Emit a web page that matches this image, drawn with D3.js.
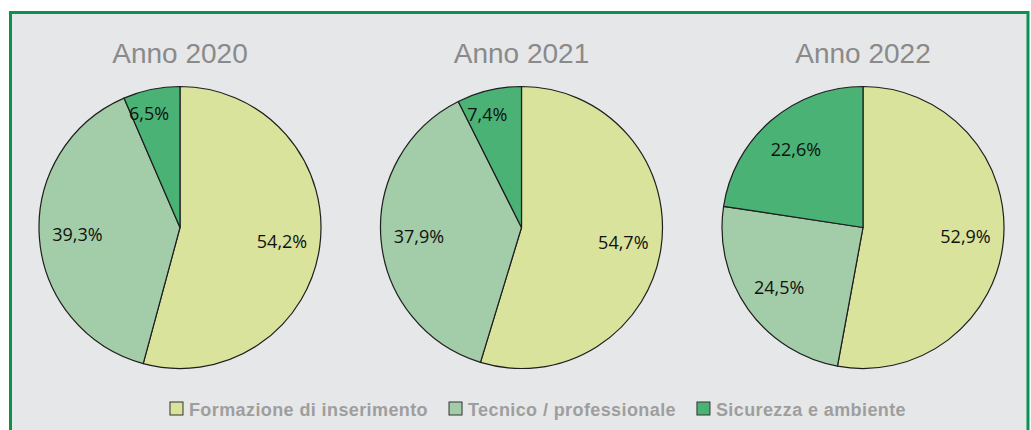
<!DOCTYPE html>
<html>
<head>
<meta charset="utf-8">
<script src="https://cdn.jsdelivr.net/npm/d3@7"></script>
<style>
  html, body { margin: 0; padding: 0; background: #ffffff; }
  svg { display: block; }
</style>
</head>
<body>
<svg id="chart" width="1031" height="430"></svg>
<script>
// Ripartizione delle ore di formazione per tipologia, anni 2020-2022
const years = ["Anno 2020", "Anno 2021", "Anno 2022"];
const categories = ["Formazione di inserimento", "Tecnico / professionale", "Sicurezza e ambiente"];
const formazione = [54.2, 54.7, 52.9];
const tecnico = [39.3, 37.9, 24.5];
const sicurezza = [6.5, 7.4, 22.6];

const colors = ["#d9e39b", "#a3cda8", "#4ab275"];

const svg = d3.select("#chart");

// Frame: light grey panel with green border (open at the bottom edge)
svg.append("rect")
  .attr("x", 10.5).attr("y", 12.5)
  .attr("width", 1017.5).attr("height", 430)
  .attr("fill", "#e6e7e9")
  .attr("stroke", "#0c9150")
  .attr("stroke-width", 3);

const itLocale = d3.formatLocale({ decimal: ",", thousands: ".", grouping: [3], currency: ["€", ""] });
const fmt = itLocale.format(".1f");

const x = d3.scalePoint().domain(years).range([180, 863]);
const cy = 227.5;
const R = 141;

const pie = d3.pie().sort(null).value(d => d.value);
const arc = d3.arc().innerRadius(0).outerRadius(R);

years.forEach((year, i) => {
  const values = [formazione[i], tecnico[i], sicurezza[i]];
  const data = categories.map((c, k) => ({ cat: c, value: values[k], color: colors[k] }));
  const g = svg.append("g").attr("transform", `translate(${x(year)},${cy})`);

  g.append("text")
    .attr("x", 0).attr("y", 63 - cy)
    .attr("text-anchor", "middle")
    .attr("font-family", "'Liberation Sans', Arial, sans-serif")
    .attr("font-size", 28)
    .attr("fill", "#8a8a8a")
    .text(year);

  const slices = pie(data);
  g.selectAll("path.slice").data(slices).join("path")
    .attr("class", "slice")
    .attr("d", arc)
    .attr("fill", d => d.data.color)
    .attr("stroke", "#1e1e1e")
    .attr("stroke-width", 1.2)
    .attr("stroke-linejoin", "round");

  // Small slices get their label pushed further out
  g.selectAll("text.lbl").data(slices).join("text")
    .attr("class", "lbl")
    .attr("transform", d => {
      const small = d.data.value < 10;
      const f = small ? 0.84 : 0.73;
      const a = (d.startAngle + d.endAngle) / 2 + (small ? -0.06 : 0);
      return `translate(${Math.sin(a) * R * f},${-Math.cos(a) * R * f})`;
    })
    .attr("text-anchor", "middle")
    .attr("dy", "0.36em")
    .attr("font-family", "'Open Sans', 'Noto Sans', sans-serif")
    .attr("font-size", 18)
    .attr("fill", "#111")
    .text(d => fmt(d.data.value) + "%");
});

// Legend
const legend = svg.append("g");
const items = legend.selectAll("g").data(categories).join("g");
items.append("rect")
  .attr("width", 13).attr("height", 13)
  .attr("y", 402)
  .attr("fill", (d, k) => colors[k])
  .attr("stroke", "#333")
  .attr("stroke-width", 1);
items.append("text")
  .attr("x", 19).attr("y", 415.5)
  .attr("font-family", "'Liberation Sans', Arial, sans-serif")
  .attr("font-weight", "bold")
  .attr("font-size", 18)
  .attr("letter-spacing", 0.4)
  .attr("fill", "#9e9e9e")
  .text(d => d);

let cursor = 0;
const gap = 21;
const widths = [];
items.each(function () {
  widths.push(this.getBBox().width);
});
const total = d3.sum(widths) + gap * (widths.length - 1);
const start = 538 - total / 2;
items.attr("transform", (d, k) => {
  const t = `translate(${start + cursor},0)`;
  cursor += widths[k] + gap;
  return t;
});
</script>
</body>
</html>
